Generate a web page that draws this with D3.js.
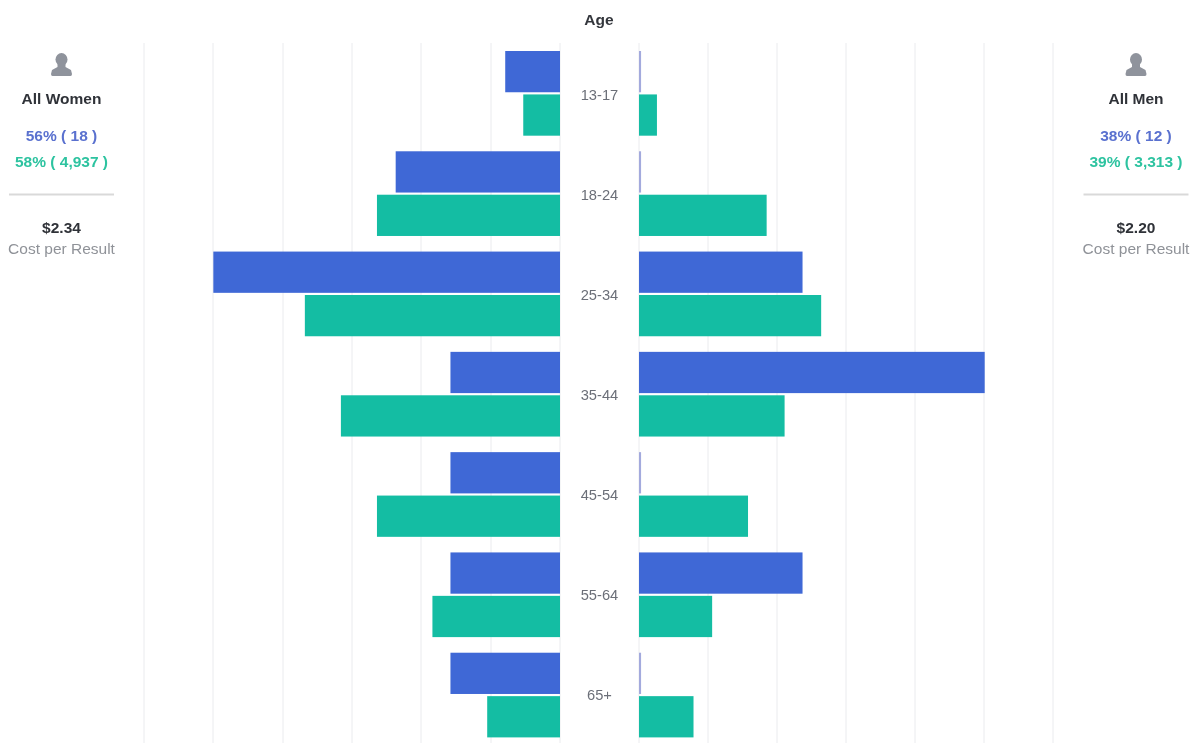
<!DOCTYPE html>
<html><head><meta charset="utf-8">
<style>
html,body{margin:0;padding:0;background:#fff;overflow:hidden}
svg{display:block;font-family:"Liberation Sans",Arial,sans-serif;filter:blur(0.4px)}
</style>
<script src="https://cdn.jsdelivr.net/npm/d3@7"></script>
</head><body>
<script>
const ageGroups = ["13-17","18-24","25-34","35-44","45-54","55-64","65+"];
const series = ["Results","Reach"];
const womenResults = [3.95,11.85,25.0,7.9,7.9,7.9,7.9];
const womenReach = [2.65,13.2,18.4,15.8,13.2,9.2,5.25];
const menResults = [0.15,0.15,11.85,25.05,0.15,11.85,0.15];
const menReach = [1.3,9.25,13.2,10.55,7.9,5.3,3.95];
const gridTicks = [0,5,10,15,20,25,30];
const colors = {Results:"#3f68d6",Reach:"#14bda3"};
const thinColor = "#a3aadd";

const W=1201,H=743;
const svg=d3.select("body").append("svg").attr("width",W).attr("height",H);
const xL=d3.scaleLinear().domain([0,30]).range([560,144]);
const xR=d3.scaleLinear().domain([0,30]).range([639,1053]);
const y0=d3.scaleBand().domain(ageGroups).range([43,745]);
const y1=d3.scaleBand().domain(series).range([8,y0.bandwidth()-7.6]).paddingInner(0.05);
const yLabel=d3.scalePoint().domain(ageGroups).range([95,695]);

// gridlines
[xL,xR].forEach(x=>{
  svg.append("g").selectAll("line").data(gridTicks).join("line")
    .attr("x1",d=>Math.round(x(d))).attr("x2",d=>Math.round(x(d))).attr("y1",43).attr("y2",743)
    .attr("stroke","#eaebee").attr("stroke-width",1);
});

function bars(x,vals,key,left){
  svg.append("g").selectAll("rect").data(vals).join("rect")
    .attr("x",d=>left?x(d):x(0))
    .attr("width",d=>Math.abs(x(d)-x(0)))
    .attr("y",(d,i)=>y0(ageGroups[i])+y1(key))
    .attr("height",y1.bandwidth())
    .attr("fill",d=>d<1?thinColor:colors[key]);
}
bars(xL,womenResults,"Results",true);
bars(xL,womenReach,"Reach",true);
bars(xR,menResults,"Results",false);
bars(xR,menReach,"Reach",false);

function text(x,y,s,size,fill,weight){
  return svg.append("text").attr("x",x).attr("y",y).attr("text-anchor","middle")
    .attr("font-size",size).attr("fill",fill).attr("font-weight",weight||"normal").text(s);
}
text(599,25,"Age",15.5,"#33363c","bold");
svg.append("g").selectAll("text").data(ageGroups).join("text")
  .attr("x",599.5).attr("y",d=>yLabel(d)+5)
  .attr("text-anchor","middle").attr("font-size",14.7).attr("fill","#6b6f78").text(d=>d);

const panels=[
 {cx:61.5,name:"All Women",a:"56% ( 18 )",b:"58% ( 4,937 )",cost:"$2.34"},
 {cx:1136,name:"All Men",a:"38% ( 12 )",b:"39% ( 3,313 )",cost:"$2.20"}
];
panels.forEach(p=>{
  const g=svg.append("g").attr("transform",`translate(${p.cx},64)`);
  g.append("ellipse").attr("cx",0).attr("cy",-4.5).attr("rx",6).attr("ry",6.5).attr("fill","#8f939c");
  g.append("path").attr("fill","#8f939c")
   .attr("d","M-4,0 L4,0 L4,3 L9.5,6 L10.5,10 Q10.5,12 9,12 L-9,12 Q-10.5,12 -10.5,10 L-9.5,6 L-4,3 Z");
  text(p.cx,103.5,p.name,15.5,"#2f3238","bold");
  text(p.cx,140.5,p.a,15.5,"#5a71cf","bold");
  text(p.cx,167,p.b,15.5,"#2dc3a0","bold");
  svg.append("line").attr("x1",p.cx-52.5).attr("x2",p.cx+52.5).attr("y1",194.5).attr("y2",194.5)
    .attr("stroke","#d9d9d9").attr("stroke-width",2);
  text(p.cx,232.5,p.cost,15.5,"#2f3238","bold");
  text(p.cx,253.5,"Cost per Result",15.5,"#8f9298");
});
</script>
</body></html>
